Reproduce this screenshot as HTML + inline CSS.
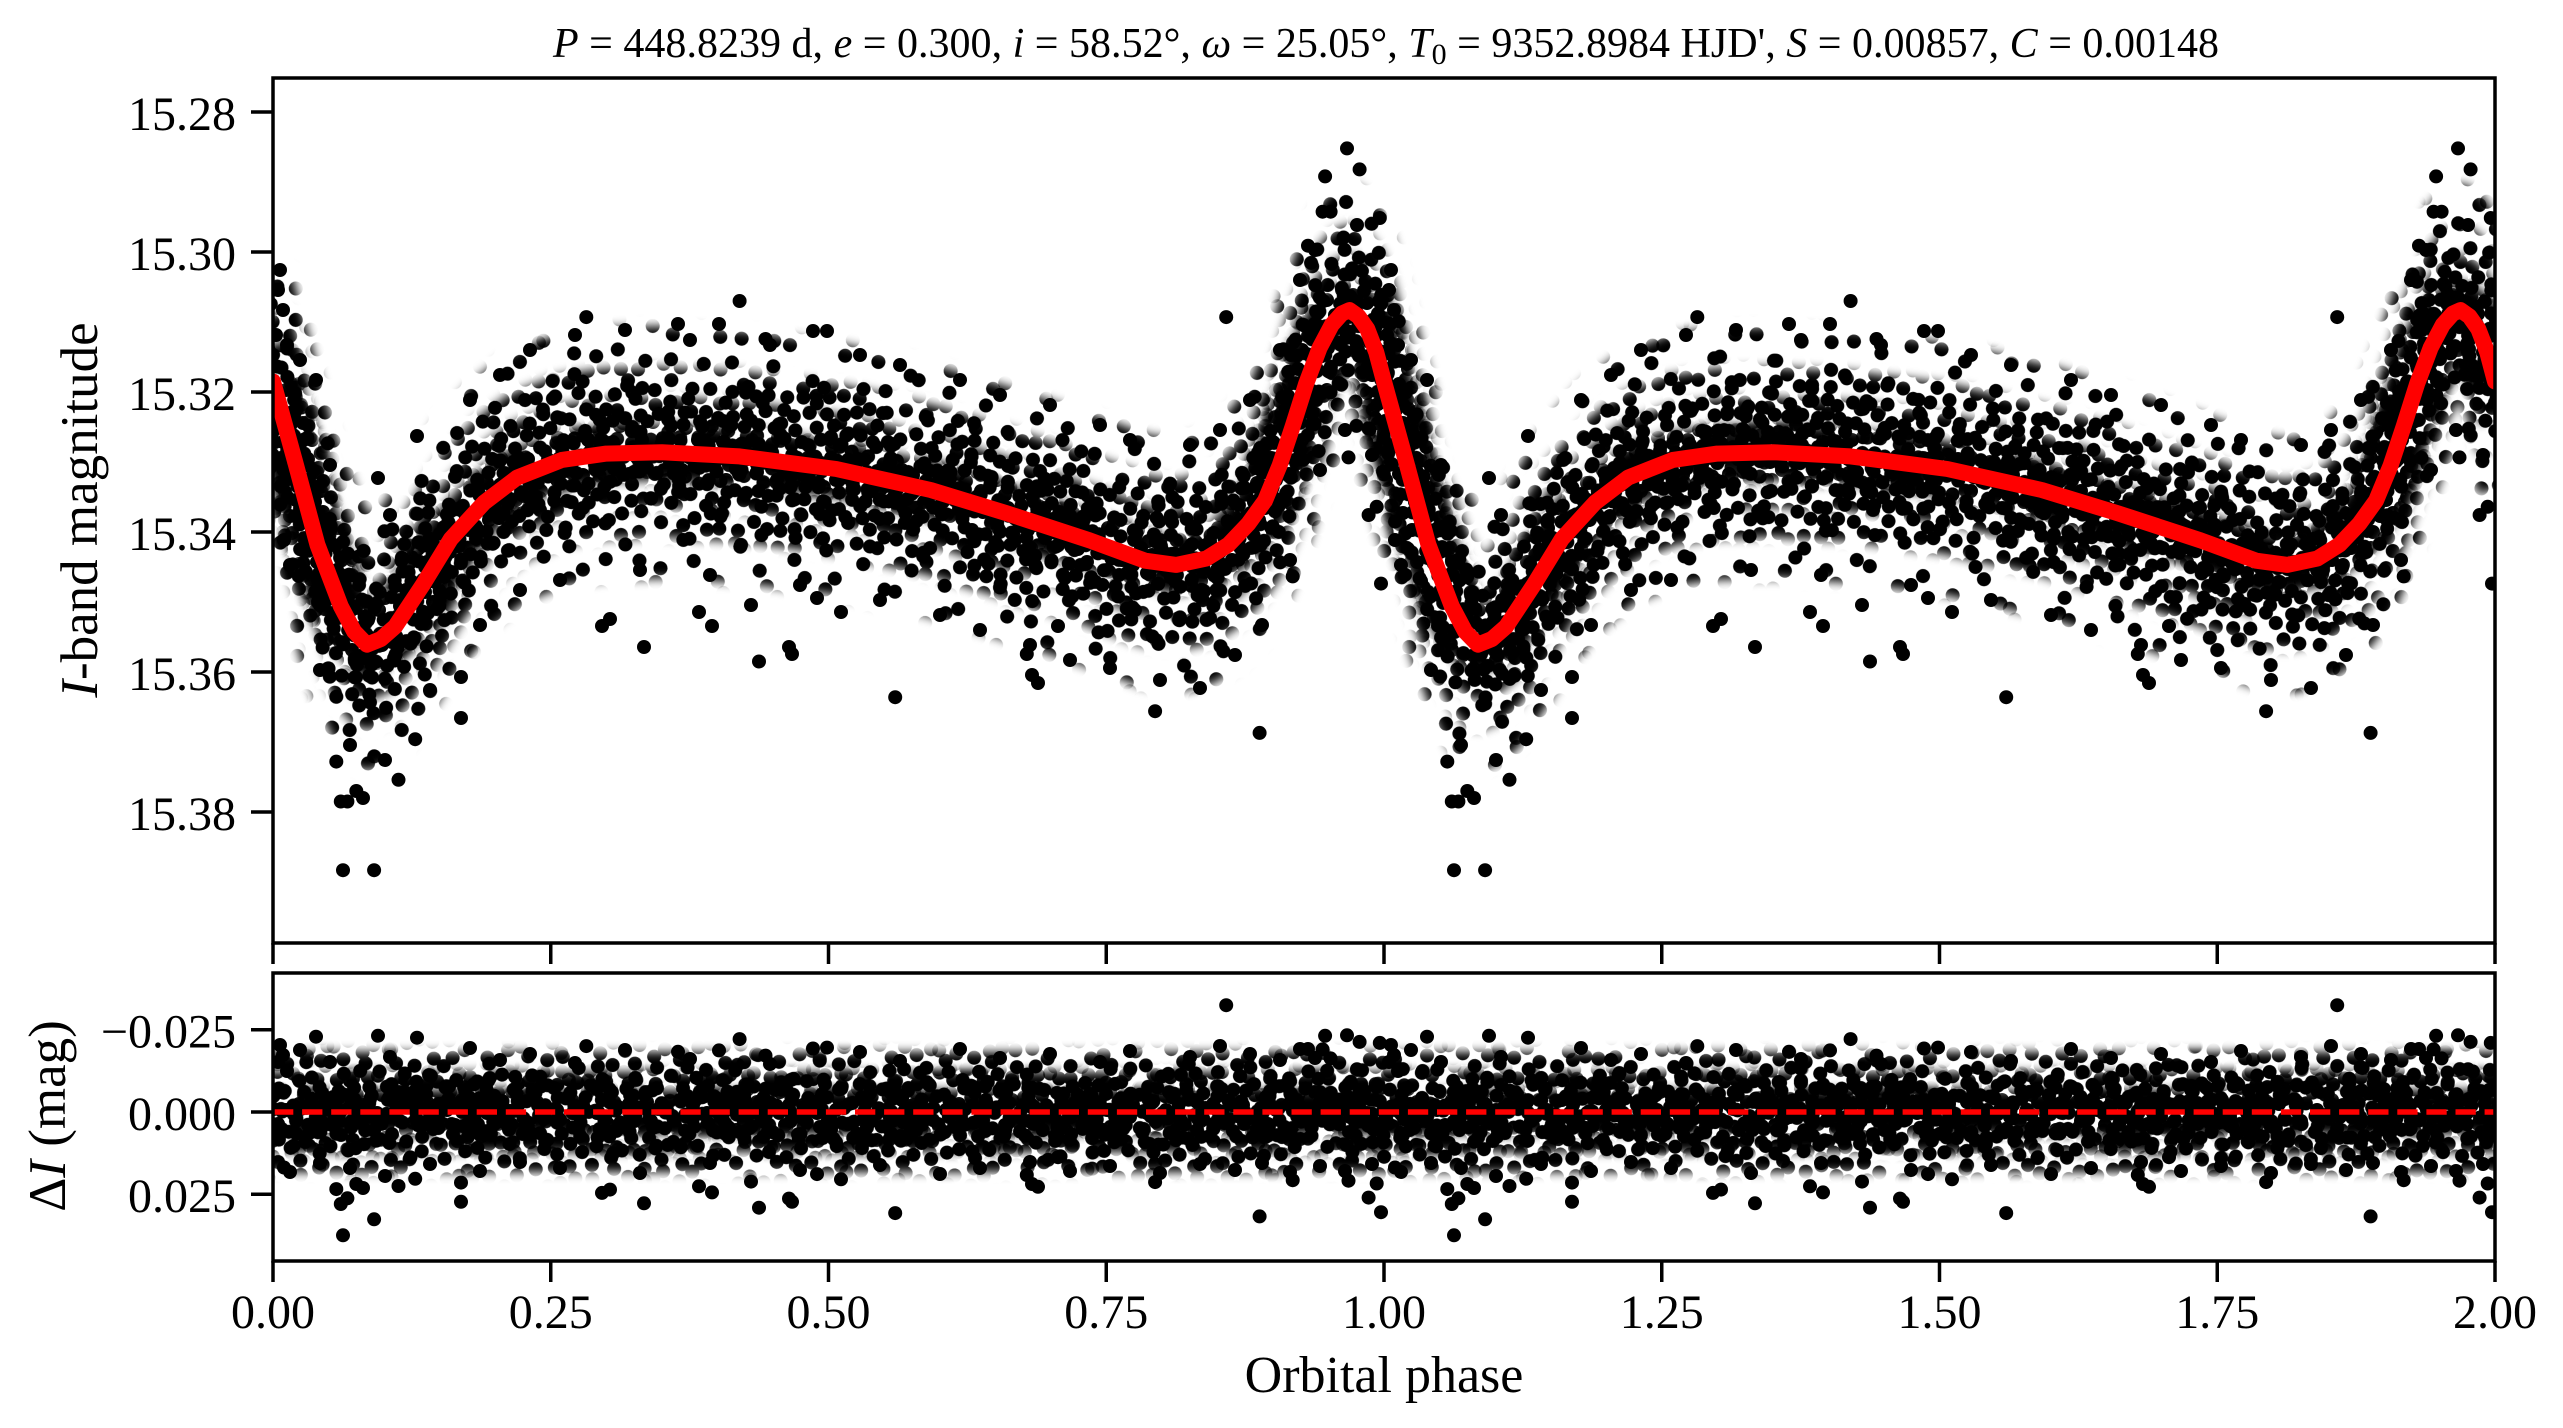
<!DOCTYPE html>
<html>
<head>
<meta charset="utf-8">
<style>
html,body{margin:0;padding:0;background:#fff;}
svg{display:block;}
</style>
</head>
<body>
<svg width="2563" height="1428" viewBox="0 0 2563 1428" xmlns="http://www.w3.org/2000/svg" xmlns:xlink="http://www.w3.org/1999/xlink" font-family="'Liberation Serif', 'DejaVu Serif', serif">
<defs>
<clipPath id="c1"><rect x="273" y="78" width="2222" height="865"/></clipPath>
<clipPath id="c2"><rect x="273" y="973" width="2222" height="288"/></clipPath>
<filter id="bl" filterUnits="userSpaceOnUse" x="0" y="0" width="2563" height="1428"><feGaussianBlur stdDeviation="5"/></filter>

<path id="cv" fill="none" d="M273,381.5 L295.2,462 317.4,544.6 340.8,606.2 354.1,631.4 366.9,644.7 380.8,639.1 395.2,626.5 423,584.5 450.8,539 484.1,502.6 517.4,477.4 561.9,459.9 606.3,453.6 661.9,452.2 739.6,456.4 836.3,469 930.7,490 1006.3,513.1 1089.6,540.4 1145.1,560.7 1176.2,564.9 1206.2,558.6 1228.5,544.6 1248.5,523.6 1265.1,500.5 1279.6,465.5 1292.9,425.6 1306.2,383.6 1319.6,347.9 1331.8,324.8 1341.8,313.6 1349.6,310.1 1358.4,316.4 1367.3,329 1376.2,352.1 1384,381.5 1406.2,462 1428.4,544.6 1451.8,606.2 1465.1,631.4 1477.9,644.7 1491.8,639.1 1506.2,626.5 1534,584.5 1561.8,539 1595.1,502.6 1628.4,477.4 1672.9,459.9 1717.3,453.6 1772.9,452.2 1850.6,456.4 1947.3,469 2041.7,490 2117.3,513.1 2200.6,540.4 2256.1,560.7 2287.2,564.9 2317.2,558.6 2339.5,544.6 2359.5,523.6 2376.1,500.5 2390.6,465.5 2403.9,425.6 2417.2,383.6 2430.6,347.9 2442.8,324.8 2452.8,313.6 2460.6,310.1 2469.4,316.4 2478.3,329 2487.2,352.1 2495,381.5"/>

<g id="d" fill="#000">
<circle cx="10" cy="12" r="7"/><circle cx="22" cy="20" r="7"/><circle cx="41" cy="8" r="7"/><circle cx="52" cy="15" r="7"/><circle cx="66" cy="30" r="7"/>
<circle cx="88" cy="9" r="7"/><circle cx="97" cy="22" r="7"/><circle cx="15" cy="45" r="7"/><circle cx="30" cy="37" r="7"/><circle cx="44" cy="52" r="7"/>
<circle cx="58" cy="44" r="7"/><circle cx="76" cy="50" r="7"/><circle cx="83" cy="63" r="7"/><circle cx="101" cy="41" r="7"/><circle cx="8" cy="78" r="7"/>
<circle cx="26" cy="68" r="7"/><circle cx="38" cy="80" r="7"/><circle cx="49" cy="70" r="7"/><circle cx="63" cy="82" r="7"/><circle cx="70" cy="66" r="7"/>
<circle cx="92" cy="80" r="7"/><circle cx="103" cy="62" r="7"/><circle cx="33" cy="25" r="7"/><circle cx="79" cy="24" r="7"/><circle cx="55" cy="58" r="7"/>
<circle cx="18" cy="58" r="7"/><circle cx="95" cy="52" r="7"/><circle cx="61" cy="8" r="7"/><circle cx="47" cy="33" r="7"/><circle cx="7" cy="30" r="7"/>
</g>
<g id="s" fill="#000">
<circle cx="15" cy="22" r="7"/><circle cx="62" cy="9" r="7"/><circle cx="110" cy="35" r="7"/><circle cx="168" cy="14" r="7"/><circle cx="190" cy="60" r="7"/>
<circle cx="40" cy="70" r="7"/><circle cx="88" cy="95" r="7"/><circle cx="135" cy="80" r="7"/><circle cx="176" cy="118" r="7"/><circle cx="20" cy="130" r="7"/>
<circle cx="66" cy="148" r="7"/><circle cx="118" cy="140" r="7"/><circle cx="150" cy="150" r="7"/><circle cx="95" cy="52" r="7"/><circle cx="30" cy="105" r="7"/>
<circle cx="150" cy="45" r="7"/><circle cx="185" cy="150" r="7"/><circle cx="75" cy="120" r="7"/><circle cx="128" cy="110" r="7"/><circle cx="55" cy="35" r="7"/>
</g>

<pattern id="pA" patternUnits="userSpaceOnUse" width="110" height="90"><use href="#d"/></pattern>
<pattern id="pB" patternUnits="userSpaceOnUse" width="110" height="90" patternTransform="rotate(37) translate(13,29)"><use href="#d"/></pattern>
<pattern id="pC" patternUnits="userSpaceOnUse" width="110" height="90" patternTransform="rotate(71) translate(41,7)"><use href="#d"/></pattern>
<pattern id="pD" patternUnits="userSpaceOnUse" width="110" height="90" patternTransform="rotate(113) translate(5,50)"><use href="#d"/></pattern>
<pattern id="pE" patternUnits="userSpaceOnUse" width="110" height="90" patternTransform="rotate(-29) translate(60,20)"><use href="#d"/></pattern>
<pattern id="pS1" patternUnits="userSpaceOnUse" width="200" height="160" patternTransform="rotate(23)"><use href="#s"/></pattern>
<pattern id="pS2" patternUnits="userSpaceOnUse" width="200" height="160" patternTransform="rotate(-52) translate(90,40)"><use href="#s"/></pattern>

<mask id="mO" maskUnits="userSpaceOnUse" x="0" y="0" width="2563" height="1428">
<g filter="url(#bl)"><g fill="none" stroke="#fff" stroke-width="36" stroke-linejoin="round">
<use href="#cv" y="-108"/><use href="#cv" y="-72"/><use href="#cv" y="-36"/><use href="#cv"/><use href="#cv" y="36"/><use href="#cv" y="72"/><use href="#cv" y="108"/>
</g></g></mask>
<mask id="mM" maskUnits="userSpaceOnUse" x="0" y="0" width="2563" height="1428">
<g filter="url(#bl)"><g fill="none" stroke="#fff" stroke-width="36" stroke-linejoin="round">
<use href="#cv" y="-67"/><use href="#cv" y="-33.5"/><use href="#cv"/><use href="#cv" y="33.5"/><use href="#cv" y="67"/>
</g></g></mask>
<mask id="mI" maskUnits="userSpaceOnUse" x="0" y="0" width="2563" height="1428">
<g filter="url(#bl)"><g fill="none" stroke="#fff" stroke-width="36" stroke-linejoin="round">
<use href="#cv" y="-37"/><use href="#cv"/><use href="#cv" y="37"/>
</g></g></mask>
<mask id="mC" maskUnits="userSpaceOnUse" x="0" y="0" width="2563" height="1428">
<g filter="url(#bl)"><g fill="none" stroke="#fff" stroke-width="56" stroke-linejoin="round">
<use href="#cv"/>
</g></g></mask>

<mask id="bO" maskUnits="userSpaceOnUse" x="0" y="0" width="2563" height="1428">
<rect x="200" y="1052" width="2400" height="120" fill="#fff" filter="url(#bl)"/></mask>
<mask id="bM" maskUnits="userSpaceOnUse" x="0" y="0" width="2563" height="1428">
<rect x="200" y="1072" width="2400" height="80" fill="#fff" filter="url(#bl)"/></mask>
<mask id="bC" maskUnits="userSpaceOnUse" x="0" y="0" width="2563" height="1428">
<rect x="200" y="1090" width="2400" height="44" fill="#fff" filter="url(#bl)"/></mask>

<g id="o1" fill="#000">
<circle cx="343" cy="870.2" r="7"/><circle cx="374.1" cy="870.2" r="7"/><circle cx="336.3" cy="761.6" r="7"/><circle cx="340.8" cy="801.5" r="7"/><circle cx="347.4" cy="801.5" r="7"/>
<circle cx="356.3" cy="791" r="7"/><circle cx="363" cy="798" r="7"/><circle cx="398.5" cy="779.8" r="7"/><circle cx="415.2" cy="739.2" r="7"/><circle cx="586.3" cy="317.1" r="7"/>
<circle cx="895.2" cy="697.2" r="7"/><circle cx="739.6" cy="301" r="7"/><circle cx="1347" cy="148.4" r="7"/><circle cx="1359.6" cy="169.4" r="7"/><circle cx="1325.1" cy="176.4" r="7"/>
<circle cx="1226.2" cy="317.1" r="7"/><circle cx="1259.6" cy="732.9" r="7"/><circle cx="1155.1" cy="711.2" r="7"/><circle cx="417" cy="436" r="7"/><circle cx="316" cy="380" r="7"/>
<circle cx="678" cy="324" r="7"/><circle cx="719" cy="324" r="7"/><circle cx="813" cy="331" r="7"/><circle cx="827" cy="331" r="7"/><circle cx="765.5" cy="339" r="7"/>
<circle cx="644" cy="647" r="7"/><circle cx="759" cy="661.5" r="7"/><circle cx="789" cy="647" r="7"/><circle cx="792" cy="654" r="7"/><circle cx="699" cy="612" r="7"/>
<circle cx="712" cy="626" r="7"/><circle cx="602" cy="626" r="7"/><circle cx="610" cy="619" r="7"/><circle cx="751" cy="605" r="7"/><circle cx="817" cy="598" r="7"/>
<circle cx="841" cy="612" r="7"/><circle cx="461" cy="718" r="7"/><circle cx="461" cy="677" r="7"/><circle cx="378" cy="478" r="7"/><circle cx="284" cy="540" r="7"/>
<circle cx="1379.8" cy="218" r="7"/><circle cx="1357" cy="225" r="7"/><circle cx="1330.6" cy="211.7" r="7"/><circle cx="1322.6" cy="211.7" r="7"/><circle cx="1308" cy="245.7" r="7"/>
<circle cx="1381" cy="583.6" r="7"/><circle cx="1368.6" cy="515" r="7"/><circle cx="1376.7" cy="506.8" r="7"/><circle cx="1348.5" cy="457.4" r="7"/><circle cx="1292.7" cy="576.4" r="7"/>
<circle cx="1026.8" cy="654" r="7"/><circle cx="1038" cy="683" r="7"/><circle cx="1032" cy="675" r="7"/><circle cx="1058" cy="626" r="7"/>
<circle cx="300" cy="360" r="7"/><circle cx="330" cy="465" r="7"/><circle cx="390" cy="515" r="7"/><circle cx="470" cy="400" r="7"/><circle cx="500" cy="375" r="7"/>
<circle cx="530" cy="350" r="7"/><circle cx="575" cy="335" r="7"/><circle cx="625" cy="330" r="7"/><circle cx="690" cy="340" r="7"/><circle cx="770" cy="345" r="7"/>
<circle cx="860" cy="355" r="7"/><circle cx="900" cy="365" r="7"/><circle cx="960" cy="380" r="7"/><circle cx="1000" cy="395" r="7"/><circle cx="1050" cy="405" r="7"/>
<circle cx="1100" cy="425" r="7"/><circle cx="1130" cy="440" r="7"/><circle cx="1190" cy="445" r="7"/><circle cx="1220" cy="430" r="7"/><circle cx="1250" cy="400" r="7"/>
<circle cx="1280" cy="350" r="7"/><circle cx="1300" cy="280" r="7"/><circle cx="1315" cy="250" r="7"/><circle cx="290" cy="565" r="7"/><circle cx="320" cy="670" r="7"/>
<circle cx="350" cy="745" r="7"/><circle cx="385" cy="760" r="7"/><circle cx="430" cy="690" r="7"/><circle cx="480" cy="625" r="7"/><circle cx="520" cy="590" r="7"/>
<circle cx="560" cy="580" r="7"/><circle cx="640" cy="570" r="7"/><circle cx="710" cy="575" r="7"/><circle cx="800" cy="585" r="7"/><circle cx="880" cy="600" r="7"/>
<circle cx="940" cy="615" r="7"/><circle cx="980" cy="630" r="7"/><circle cx="1030" cy="645" r="7"/><circle cx="1070" cy="660" r="7"/><circle cx="1110" cy="668" r="7"/>
<circle cx="1160" cy="680" r="7"/><circle cx="1200" cy="688" r="7"/><circle cx="1235" cy="655" r="7"/><circle cx="1262" cy="625" r="7"/><circle cx="1290" cy="560" r="7"/>
<circle cx="1320" cy="470" r="7"/><circle cx="1345" cy="430" r="7"/><circle cx="1372" cy="455" r="7"/><circle cx="278" cy="290" r="7"/><circle cx="283" cy="310" r="7"/>
<circle cx="276" cy="335" r="7"/><circle cx="287" cy="345" r="7"/><circle cx="280" cy="270" r="7"/>
</g>

<g id="o2" fill="#000">
<circle cx="343" cy="1235.3" r="7"/><circle cx="374.1" cy="1219.3" r="7"/><circle cx="336.3" cy="1189.1" r="7"/><circle cx="340.8" cy="1204" r="7"/><circle cx="347.4" cy="1198.3" r="7"/>
<circle cx="356.3" cy="1184" r="7"/><circle cx="363" cy="1188" r="7"/><circle cx="398.5" cy="1186" r="7"/><circle cx="415.2" cy="1178.8" r="7"/><circle cx="586.3" cy="1046.1" r="7"/>
<circle cx="895.2" cy="1213.1" r="7"/><circle cx="739.6" cy="1039.1" r="7"/><circle cx="1347" cy="1035.3" r="7"/><circle cx="1359.6" cy="1041.9" r="7"/><circle cx="1325.1" cy="1035.8" r="7"/>
<circle cx="1226.2" cy="1005.2" r="7"/><circle cx="1259.6" cy="1216.4" r="7"/><circle cx="1155.1" cy="1182.1" r="7"/><circle cx="417" cy="1037.7" r="7"/><circle cx="316" cy="1036.7" r="7"/>
<circle cx="678" cy="1051.8" r="7"/><circle cx="719" cy="1050.4" r="7"/><circle cx="813" cy="1048.5" r="7"/><circle cx="827" cy="1047.6" r="7"/><circle cx="765.5" cy="1055.6" r="7"/>
<circle cx="644" cy="1203.3" r="7"/><circle cx="759" cy="1207.7" r="7"/><circle cx="789" cy="1198.6" r="7"/><circle cx="792" cy="1201.8" r="7"/><circle cx="699" cy="1186.3" r="7"/>
<circle cx="712" cy="1192.4" r="7"/><circle cx="602" cy="1192.9" r="7"/><circle cx="610" cy="1189.6" r="7"/><circle cx="751" cy="1181.6" r="7"/><circle cx="817" cy="1174.1" r="7"/>
<circle cx="841" cy="1179.3" r="7"/><circle cx="461" cy="1201.8" r="7"/><circle cx="461" cy="1182.6" r="7"/><circle cx="378" cy="1035.8" r="7"/><circle cx="284" cy="1167.5" r="7"/>
<circle cx="1379.8" cy="1042.9" r="7"/><circle cx="1357" cy="1069.2" r="7"/><circle cx="1330.6" cy="1058.4" r="7"/><circle cx="1322.6" cy="1049.4" r="7"/><circle cx="1308" cy="1049" r="7"/>
<circle cx="1381" cy="1212.2" r="7"/><circle cx="1368.6" cy="1197.6" r="7"/><circle cx="1376.7" cy="1183.5" r="7"/><circle cx="1348.5" cy="1180.7" r="7"/><circle cx="1292.7" cy="1180.2" r="7"/>
<circle cx="1026.8" cy="1175" r="7"/><circle cx="1038" cy="1186.8" r="7"/><circle cx="1032" cy="1184" r="7"/><circle cx="1058" cy="1157.2" r="7"/>
<circle cx="300" cy="1050" r="7"/><circle cx="330" cy="1062" r="7"/><circle cx="390" cy="1057" r="7"/><circle cx="470" cy="1048" r="7"/><circle cx="500" cy="1060" r="7"/>
<circle cx="530" cy="1054" r="7"/><circle cx="575" cy="1063" r="7"/><circle cx="625" cy="1050" r="7"/><circle cx="690" cy="1059" r="7"/><circle cx="770" cy="1064" r="7"/>
<circle cx="860" cy="1052" r="7"/><circle cx="900" cy="1061" r="7"/><circle cx="960" cy="1049" r="7"/><circle cx="1000" cy="1058" r="7"/><circle cx="1050" cy="1054" r="7"/>
<circle cx="1100" cy="1062" r="7"/><circle cx="1130" cy="1051" r="7"/><circle cx="1190" cy="1057" r="7"/><circle cx="1220" cy="1046" r="7"/><circle cx="1250" cy="1054" r="7"/>
<circle cx="1280" cy="1060" r="7"/><circle cx="1300" cy="1049" r="7"/><circle cx="1315" cy="1058" r="7"/><circle cx="290" cy="1172" r="7"/><circle cx="320" cy="1163" r="7"/>
<circle cx="350" cy="1168" r="7"/><circle cx="385" cy="1176" r="7"/><circle cx="430" cy="1164" r="7"/><circle cx="480" cy="1171" r="7"/><circle cx="520" cy="1162" r="7"/>
<circle cx="560" cy="1168" r="7"/><circle cx="640" cy="1173" r="7"/><circle cx="710" cy="1163" r="7"/><circle cx="800" cy="1170" r="7"/><circle cx="880" cy="1165" r="7"/>
<circle cx="940" cy="1174" r="7"/><circle cx="980" cy="1168" r="7"/><circle cx="1030" cy="1162" r="7"/><circle cx="1070" cy="1171" r="7"/><circle cx="1110" cy="1166" r="7"/>
<circle cx="1160" cy="1173" r="7"/><circle cx="1200" cy="1164" r="7"/><circle cx="1235" cy="1170" r="7"/><circle cx="1262" cy="1163" r="7"/><circle cx="1290" cy="1172" r="7"/>
<circle cx="1320" cy="1166" r="7"/><circle cx="1345" cy="1171" r="7"/><circle cx="1372" cy="1164" r="7"/><circle cx="278" cy="1062" r="7"/><circle cx="283" cy="1055" r="7"/>
<circle cx="287" cy="1071" r="7"/><circle cx="280" cy="1045" r="7"/>
</g>
</defs>

<rect width="2563" height="1428" fill="#fff"/>

<!-- main panel data -->
<g clip-path="url(#c1)">
<rect x="273" y="78" width="2222" height="865" fill="url(#pS1)" mask="url(#mO)"/>
<rect x="273" y="78" width="2222" height="865" fill="url(#pS2)" mask="url(#mO)"/>
<rect x="273" y="78" width="2222" height="865" fill="url(#pC)" mask="url(#mM)"/>
<rect x="273" y="78" width="2222" height="865" fill="url(#pE)" mask="url(#mI)"/>
<rect x="273" y="78" width="2222" height="865" fill="url(#pA)" mask="url(#mC)"/>
<rect x="273" y="78" width="2222" height="865" fill="url(#pB)" mask="url(#mC)"/>
<use href="#o1"/>
<use href="#o1" x="1111"/>
<use href="#cv" stroke="#ff0000" stroke-width="16" stroke-linejoin="round" stroke-linecap="round"/>
</g>

<!-- residual panel data -->
<g clip-path="url(#c2)">
<rect x="273" y="1040" width="2222" height="144" fill="url(#pS1)" mask="url(#bO)"/>
<rect x="273" y="1040" width="2222" height="144" fill="url(#pD)" mask="url(#bO)"/>
<rect x="273" y="1060" width="2222" height="104" fill="url(#pE)" mask="url(#bM)"/>
<rect x="273" y="1060" width="2222" height="104" fill="url(#pB)" mask="url(#bM)"/>
<rect x="273" y="1080" width="2222" height="64" fill="url(#pA)" mask="url(#bC)"/>
<rect x="273" y="1080" width="2222" height="64" fill="url(#pC)" mask="url(#bC)"/>
<use href="#o2"/>
<use href="#o2" x="1111"/>
<line x1="273" y1="1112" x2="2495" y2="1112" stroke="#ff0000" stroke-width="5.5" stroke-dasharray="20.3 8.8"/>
</g>

<!-- spines -->
<rect x="273" y="78" width="2222" height="865" fill="none" stroke="#000" stroke-width="3.5"/>
<rect x="273" y="973" width="2222" height="288" fill="none" stroke="#000" stroke-width="3.5"/>

<!-- ticks -->
<g stroke="#000" stroke-width="3.5">
<line x1="251" y1="112" x2="273" y2="112"/>
<line x1="251" y1="252" x2="273" y2="252"/>
<line x1="251" y1="392" x2="273" y2="392"/>
<line x1="251" y1="532" x2="273" y2="532"/>
<line x1="251" y1="672" x2="273" y2="672"/>
<line x1="251" y1="812" x2="273" y2="812"/>

<line x1="251" y1="1029.7" x2="273" y2="1029.7"/>
<line x1="251" y1="1112" x2="273" y2="1112"/>
<line x1="251" y1="1194.3" x2="273" y2="1194.3"/>

<line x1="273" y1="943" x2="273" y2="964"/>
<line x1="550.75" y1="943" x2="550.75" y2="964"/>
<line x1="828.5" y1="943" x2="828.5" y2="964"/>
<line x1="1106.25" y1="943" x2="1106.25" y2="964"/>
<line x1="1384" y1="943" x2="1384" y2="964"/>
<line x1="1661.75" y1="943" x2="1661.75" y2="964"/>
<line x1="1939.5" y1="943" x2="1939.5" y2="964"/>
<line x1="2217.25" y1="943" x2="2217.25" y2="964"/>
<line x1="2495" y1="943" x2="2495" y2="964"/>

<line x1="273" y1="1261" x2="273" y2="1282"/>
<line x1="550.75" y1="1261" x2="550.75" y2="1282"/>
<line x1="828.5" y1="1261" x2="828.5" y2="1282"/>
<line x1="1106.25" y1="1261" x2="1106.25" y2="1282"/>
<line x1="1384" y1="1261" x2="1384" y2="1282"/>
<line x1="1661.75" y1="1261" x2="1661.75" y2="1282"/>
<line x1="1939.5" y1="1261" x2="1939.5" y2="1282"/>
<line x1="2217.25" y1="1261" x2="2217.25" y2="1282"/>
<line x1="2495" y1="1261" x2="2495" y2="1282"/>
</g>

<!-- y tick labels -->
<g font-size="48" text-anchor="end" fill="#000">
<text x="236" y="130">15.28</text>
<text x="236" y="270">15.30</text>
<text x="236" y="410">15.32</text>
<text x="236" y="550">15.34</text>
<text x="236" y="690">15.36</text>
<text x="236" y="830">15.38</text>
<text x="236" y="1047.5">−0.025</text>
<text x="236" y="1130">0.000</text>
<text x="236" y="1212">0.025</text>
</g>

<!-- x tick labels -->
<g font-size="48" text-anchor="middle" fill="#000">
<text x="273" y="1328">0.00</text>
<text x="550.75" y="1328">0.25</text>
<text x="828.5" y="1328">0.50</text>
<text x="1106.25" y="1328">0.75</text>
<text x="1384" y="1328">1.00</text>
<text x="1661.75" y="1328">1.25</text>
<text x="1939.5" y="1328">1.50</text>
<text x="2217.25" y="1328">1.75</text>
<text x="2495" y="1328">2.00</text>
</g>

<!-- axis labels -->
<text x="1384" y="1392" font-size="52" text-anchor="middle" fill="#000">Orbital phase</text>
<text transform="translate(97,510) rotate(-90)" font-size="53" text-anchor="middle" fill="#000"><tspan font-style="italic">I</tspan>-band magnitude</text>
<text transform="translate(65,1116) rotate(-90)" font-size="53" text-anchor="middle" fill="#000">Δ<tspan font-style="italic">I</tspan> (mag)</text>

<!-- title -->
<text x="1386" y="57" font-size="42" text-anchor="middle" fill="#000" textLength="1666" lengthAdjust="spacing"><tspan font-style="italic">P</tspan> = 448.8239 d, <tspan font-style="italic">e</tspan> = 0.300, <tspan font-style="italic">i</tspan> = 58.52°, <tspan font-style="italic">ω</tspan> = 25.05°, <tspan font-style="italic">T</tspan><tspan font-size="30" dy="7">0</tspan><tspan dy="-7"> = 9352.8984 HJD', </tspan><tspan font-style="italic">S</tspan> = 0.00857, <tspan font-style="italic">C</tspan> = 0.00148</text>
</svg>
</body>
</html>
